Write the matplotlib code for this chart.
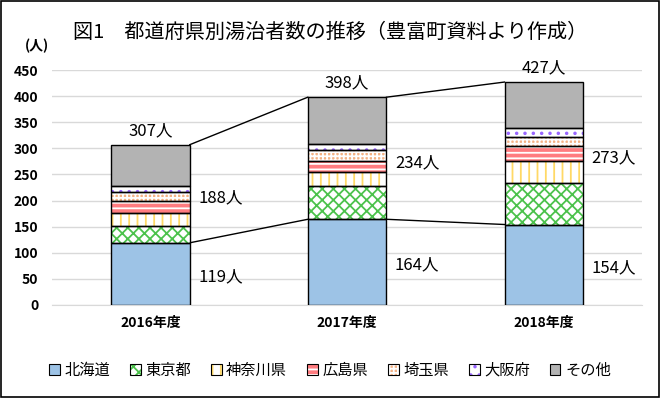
import numpy as np
import matplotlib.pyplot as plt
from matplotlib.patches import Rectangle

plt.rcParams['font.family'] = ['Noto Sans CJK JP', 'DejaVu Sans']
plt.rcParams['hatch.linewidth'] = 1.3

years = ['2016年度', '2017年度', '2018年度']
series = ['北海道', '東京都', '神奈川県', '広島県', '埼玉県', '大阪府', 'その他']
hokkaido = [119, 164, 154]
tokyo = [33, 63, 79]
kanagawa = [25, 28, 42]
hiroshima = [22, 21, 29]
saitama = [17, 21, 17]
osaka = [11, 12, 17]
others = [80, 89, 89]
totals = [307, 398, 427]
outside = [188, 234, 273]

data = [hokkaido, tokyo, kanagawa, hiroshima, saitama, osaka, others]
# face colour, hatch, hatch colour
styles = [
    ('#9DC3E6', '', None),
    ('white', 'xxx', '#4CC24C'),
    ('white', '||', '#FFD966'),
    ('#FF7C80', '---', 'white'),
    ('#F4B183', '++++', 'white'),
    ('white', '..', '#9966FF'),
    ('#B3B3B3', '', None),
]

fig = plt.figure(figsize=(6.6, 3.98), dpi=100)
ax = fig.add_axes([0.079, 0.234, 0.894, 0.59])
x = np.arange(len(years))
w = 0.4

bottom = np.zeros(len(years))
handles = []
for name, vals, (fc, hatch, hc) in zip(series, data, styles):
    vals = np.array(vals, dtype=float)
    if hatch:
        ax.bar(x, vals, w, bottom=bottom, color=fc, edgecolor=hc, hatch=hatch,
               linewidth=0, zorder=2)
        fill = Rectangle((0, 0), 1, 1, facecolor=fc, edgecolor=hc, hatch=hatch,
                         linewidth=0)
    else:
        ax.bar(x, vals, w, bottom=bottom, color=fc, linewidth=0, zorder=2)
        fill = Rectangle((0, 0), 1, 1, facecolor=fc, linewidth=0)
    ax.bar(x, vals, w, bottom=bottom, fill=False, edgecolor='black',
           linewidth=1.0, zorder=3)
    outline = Rectangle((0, 0), 1, 1, fill=False, edgecolor='black', linewidth=0.8)
    handles.append((fill, outline))
    bottom += vals

# series lines
for lvl in (hokkaido, totals):
    for i in range(len(years) - 1):
        ax.plot([x[i] + w / 2, x[i + 1] - w / 2], [lvl[i], lvl[i + 1]],
                color='black', linewidth=1.0, zorder=1)

for i in range(len(years)):
    ax.annotate(f'{totals[i]}人', (x[i], totals[i]), xytext=(0, 4),
                textcoords='offset points', ha='center', va='bottom', fontsize=12)
    ax.annotate(f'{hokkaido[i]}人', (x[i] + w / 2, hokkaido[i] / 2),
                xytext=(6, -2), textcoords='offset points', ha='left',
                va='center', fontsize=12)
    ax.annotate(f'{outside[i]}人', (x[i] + w / 2, hokkaido[i] + outside[i] / 2),
                xytext=(6, -3), textcoords='offset points', ha='left',
                va='center', fontsize=12)

ax.set_xlim(-0.5, 2.5)
ax.set_ylim(0, 450)
ax.set_yticks(range(0, 451, 50))
ax.set_xticks(x)
ax.set_xticklabels(years, fontsize=10, fontweight='bold')
ax.tick_params(axis='y', labelsize=10, length=0, pad=10)
ax.tick_params(axis='x', length=0, pad=8)
for lab in ax.get_yticklabels():
    lab.set_fontweight('bold')
ax.grid(axis='y', color='#D9D9D9', linewidth=1.0, zorder=0)
ax.set_axisbelow(True)
for s in ['top', 'right', 'left']:
    ax.spines[s].set_visible(False)
ax.spines['bottom'].set_color('#D9D9D9')

fig.text(0.038, 0.885, '(人)', fontsize=10, fontweight='bold', ha='left', va='center')
fig.suptitle('図1　都道府県別湯治者数の推移（豊富町資料より作成）', x=0.5, y=0.945,
             fontsize=14.5)

fig.legend(handles, series, loc='center', bbox_to_anchor=(0.5, 0.07), ncol=7,
           frameon=False, fontsize=11, handlelength=0.7, handleheight=0.7,
           handletextpad=0.3, columnspacing=1.3)

fig.patches.append(Rectangle((0.002, 0.003), 0.996, 0.994, transform=fig.transFigure,
                             fill=False, edgecolor='black', linewidth=1.2))

fig.savefig('out.png', dpi=100)
